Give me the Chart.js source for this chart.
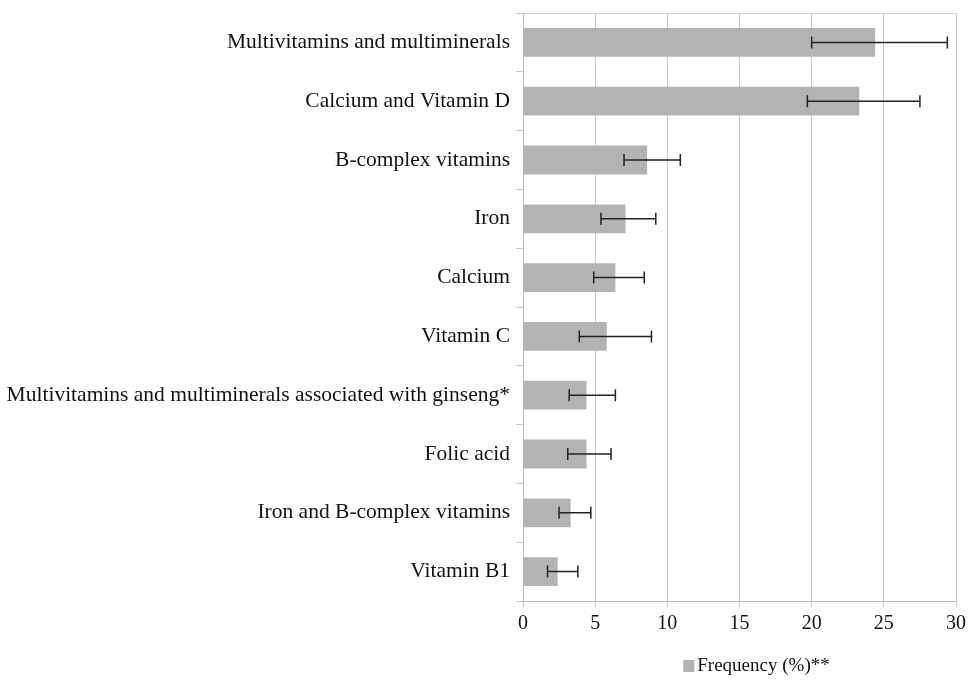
<!DOCTYPE html>
<html>
<head>
<meta charset="utf-8">
<script src="https://cdn.jsdelivr.net/npm/chart.js@4.4.0/dist/chart.umd.min.js"></script>
<style>
  html, body { margin: 0; padding: 0; background: #ffffff; }
  #wrap { position: relative; width: 971px; height: 680px; }
</style>
</head>
<body>
<div id="wrap"><canvas id="chart" width="971" height="680"></canvas></div>
<script>
// Supplement categories, top to bottom
const categories = [
  'Multivitamins and multiminerals',
  'Calcium and Vitamin D',
  'B-complex vitamins',
  'Iron',
  'Calcium',
  'Vitamin C',
  'Multivitamins and multiminerals associated with ginseng*',
  'Folic acid',
  'Iron and B-complex vitamins',
  'Vitamin B1'
];

// Frequency (%) and the error bar ends
const frequency = [24.4, 23.3, 8.6, 7.1, 6.4, 5.8, 4.4, 4.4, 3.3, 2.4];
const errLow = [20.0, 19.7, 7.0, 5.4, 4.9, 3.9, 3.2, 3.1, 2.5, 1.7];
const errHigh = [29.4, 27.5, 10.9, 9.2, 8.4, 8.9, 6.4, 6.1, 4.7, 3.8];

const xTicks = [0, 5, 10, 15, 20, 25, 30];

const seriesName = 'Frequency (%)**';
const barColor = '#b3b3b3';
const serif = '"Liberation Serif", "DejaVu Serif", serif';

// draws the horizontal error bars with caps
const errorBars = {
  id: 'errorBars',
  afterDatasetsDraw(chart) {
    const ctx = chart.ctx;
    const meta = chart.getDatasetMeta(0);
    const x = chart.scales.x;
    ctx.save();
    ctx.strokeStyle = '#222222';
    ctx.lineWidth = 1.5;
    meta.data.forEach((bar, i) => {
      const x1 = x.getPixelForValue(errLow[i]);
      const x2 = x.getPixelForValue(errHigh[i]);
      const y = bar.y;
      ctx.beginPath();
      ctx.moveTo(x1, y);
      ctx.lineTo(x2, y);
      ctx.moveTo(x1, y - 6);
      ctx.lineTo(x1, y + 6);
      ctx.moveTo(x2, y - 6);
      ctx.lineTo(x2, y + 6);
      ctx.stroke();
    });
    ctx.restore();
  }
};

// small legend under the axis, square hugging the text
const bottomLegend = {
  id: 'bottomLegend',
  afterDraw(chart) {
    const ctx = chart.ctx;
    const area = chart.chartArea;
    ctx.save();
    ctx.font = '19px ' + serif;
    const textW = ctx.measureText(seriesName).width;
    const total = 11 + 3 + textW;
    const left = (area.left + area.right) / 2 + 17 - total / 2;
    const y = 666;
    ctx.fillStyle = barColor;
    ctx.fillRect(left, y - 6, 11, 12);
    ctx.fillStyle = '#111111';
    ctx.textBaseline = 'middle';
    ctx.textAlign = 'left';
    ctx.fillText(seriesName, left + 14, y);
    ctx.restore();
  }
};

new Chart(document.getElementById('chart'), {
  type: 'bar',
  data: {
    labels: categories,
    datasets: [{
      label: seriesName,
      data: frequency,
      backgroundColor: barColor,
      borderWidth: 0,
      barPercentage: 0.49,
      categoryPercentage: 1.0
    }]
  },
  options: {
    indexAxis: 'y',
    responsive: false,
    animation: false,
    layout: {
      padding: { left: 0, right: 15, top: 13, bottom: 28 }
    },
    plugins: {
      tooltip: { enabled: false },
      legend: { display: false }
    },
    scales: {
      x: {
        min: 0,
        max: 30,
        afterBuildTicks(scale) {
          scale.ticks = xTicks.map(v => ({ value: v }));
        },
        afterFit(scale) {
          scale.height = 51;
        },
        grid: {
          color: '#c8c8c8',
          tickColor: '#c8c8c8',
          tickLength: 6,
          lineWidth: 1
        },
        border: { color: '#bdbdbd' },
        ticks: {
          color: '#111111',
          font: { family: serif, size: 20 },
          padding: 5
        }
      },
      y: {
        afterFit(scale) {
          scale.width = 523;
          scale.paddingTop = 0;
          scale.paddingBottom = 0;
        },
        grid: {
          offset: true,
          drawOnChartArea: true,
          color: c => (c.index === 0 ? '#d6d6d6' : 'rgba(0,0,0,0)'),
          tickColor: '#c4c4c4',
          tickLength: 7
        },
        border: { color: '#bdbdbd' },
        ticks: {
          color: '#111111',
          font: { family: serif, size: 21.5 },
          padding: 6,
          autoSkip: false
        }
      }
    }
  },
  plugins: [errorBars, bottomLegend]
});
</script>
</body>
</html>
